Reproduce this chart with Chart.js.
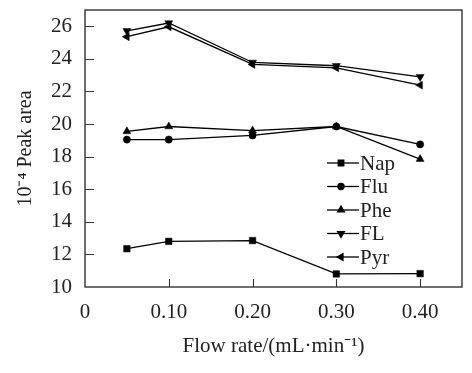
<!DOCTYPE html>
<html>
<head>
<meta charset="utf-8">
<script src="https://cdn.jsdelivr.net/npm/chart.js@4/dist/chart.umd.min.js"></script>
<style>
  html, body { margin: 0; padding: 0; background: #fff; }
  #wrap { width: 472px; height: 373px; }
</style>
</head>
<body>
<div id="wrap"><canvas id="myChart"></canvas></div>
<script>
// flow rate, mL/min
var flowRates = [0.05, 0.10, 0.20, 0.30, 0.40];
var seriesNames = ['Nap', 'Flu', 'Phe', 'FL', 'Pyr'];
// peak area x 10^-4
var napValues = [12.35, 12.8, 12.85, 10.8, 10.82];
var fluValues = [19.05, 19.05, 19.3, 19.85, 18.75];
var pheValues = [19.55, 19.85, 19.6, 19.85, 17.85];
var flValues  = [25.72, 26.2, 23.78, 23.58, 22.9];
var pyrValues = [25.36, 25.97, 23.66, 23.45, 22.39];
var xTicks = [0, 0.10, 0.20, 0.30, 0.40];
var yTicks = [10, 12, 14, 16, 18, 20, 22, 24, 26];

var serif = "'Liberation Serif', 'Times New Roman', serif";
var ink = '#222';

function pts(vals) {
    return flowRates.map(function (x, i) { return { x: x, y: vals[i] }; });
}

var styles = [
    { pointStyle: 'rect', radius: 4.6, rotation: 0 },
    { pointStyle: 'circle', radius: 3.6, rotation: 0 },
    { pointStyle: 'triangle', radius: 4.6, rotation: 0 },
    { pointStyle: 'triangle', radius: 4.6, rotation: 180 },
    { pointStyle: 'triangle', radius: 4.6, rotation: 270 }
];
var allValues = [napValues, fluValues, pheValues, flValues, pyrValues];

var datasets = seriesNames.map(function (name, i) {
    return {
        label: name,
        data: pts(allValues[i]),
        borderColor: '#000',
        backgroundColor: '#000',
        borderWidth: 1.3,
        pointStyle: styles[i].pointStyle,
        pointRadius: styles[i].radius,
        pointRotation: styles[i].rotation,
        pointBorderWidth: 0.5,
        pointBackgroundColor: '#000',
        pointBorderColor: '#000',
        tension: 0
    };
});

// box around plot, inward ticks and a legend inside the plot
var framePlugin = {
    id: 'frame',
    afterDraw: function (chart) {
        var ctx = chart.ctx, a = chart.chartArea;
        var xs = chart.scales.x, ys = chart.scales.y;
        ctx.save();
        ctx.strokeStyle = '#333';
        ctx.lineWidth = 1.4;
        ctx.strokeRect(a.left, a.top, a.right - a.left, a.bottom - a.top);
        ctx.lineWidth = 1.1;
        ctx.beginPath();
        xs.ticks.forEach(function (t) {
            if (t.value === 0) return;
            var px = Math.round(xs.getPixelForValue(t.value)) + 0.5;
            ctx.moveTo(px, a.bottom);
            ctx.lineTo(px, a.bottom - 8);
        });
        ys.ticks.forEach(function (t) {
            if (t.value === 10) return;
            var py = Math.round(ys.getPixelForValue(t.value)) + 0.5;
            ctx.moveTo(a.left, py);
            ctx.lineTo(a.left + 9, py);
        });
        ctx.stroke();

        // legend
        var lx = 327, ly = 163, step = 23.5;
        ctx.font = '21px ' + serif;
        ctx.textBaseline = 'middle';
        ctx.textAlign = 'left';
        chart.data.datasets.forEach(function (ds, i) {
            var y = ly + i * step;
            ctx.strokeStyle = '#000';
            ctx.lineWidth = 1.3;
            ctx.beginPath();
            ctx.moveTo(lx, y);
            ctx.lineTo(lx + 32, y);
            ctx.stroke();
            ctx.fillStyle = '#000';
            Chart.helpers.drawPoint(ctx, {
                pointStyle: ds.pointStyle,
                radius: ds.pointRadius * 0.85,
                rotation: ds.pointRotation,
                borderWidth: 0.5
            }, lx + 14, y);
            ctx.fillStyle = ink;
            ctx.fillText(ds.label, lx + 33, y + 1);
        });
        ctx.restore();
    }
};

var ctx = document.getElementById('myChart');
var myChart = new Chart(ctx, {
    type: 'line',
    data: { datasets: datasets },
    options: {
        responsive: true,
        maintainAspectRatio: false,
        animation: false,
        layout: { padding: { top: 10, right: 10, left: 0, bottom: 0 } },
        plugins: {
            legend: { display: false },
            tooltip: { enabled: false }
        },
        scales: {
            x: {
                type: 'linear',
                min: 0,
                max: 0.45,
                grid: { display: false },
                border: { display: false },
                afterBuildTicks: function (scale) {
                    scale.ticks = xTicks.map(function (v) { return { value: v }; });
                },
                afterFit: function (scale) {
                    scale.height = 86;
                    scale.paddingLeft = 0;
                    scale.paddingRight = 0;
                },
                ticks: {
                    padding: 5,
                    color: ink,
                    font: { family: serif, size: 21 },
                    maxRotation: 0,
                    callback: function (v) { return v === 0 ? '0' : v.toFixed(2); }
                },
                title: {
                    display: true,
                    text: 'Flow rate/(mL·min⁻¹)',
                    color: ink,
                    font: { family: serif, size: 21 },
                    padding: { top: 4, bottom: 14 }
                }
            },
            y: {
                min: 10,
                max: 27,
                grid: { display: false },
                border: { display: false },
                afterBuildTicks: function (scale) {
                    scale.ticks = yTicks.map(function (v) { return { value: v }; });
                },
                afterFit: function (scale) {
                    scale.width = 85;
                    scale.paddingTop = 0;
                    scale.paddingBottom = 0;
                },
                ticks: {
                    padding: 5,
                    color: ink,
                    font: { family: serif, size: 21 }
                },
                title: {
                    display: true,
                    text: '10⁻⁴ Peak area',
                    color: ink,
                    font: { family: serif, size: 20 },
                    padding: { top: 14, bottom: 4 }
                }
            }
        }
    },
    plugins: [framePlugin]
});
</script>
</body>
</html>
